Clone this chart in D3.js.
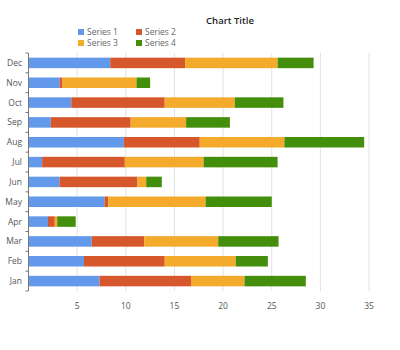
<!DOCTYPE html>
<html>
<head>
<meta charset="utf-8">
<script src="https://cdn.jsdelivr.net/npm/d3@7"></script>
<style>
  html, body { margin: 0; padding: 0; background: #fff; }
  svg { display: block; font-family: "Open Sans", "Noto Sans", sans-serif; }
</style>
</head>
<body>
<svg id="chart" width="400" height="350"></svg>
<script>
// Months, bottom to top in the stack order of the axis
const months = ["Jan", "Feb", "Mar", "Apr", "May", "Jun", "Jul", "Aug", "Sep", "Oct", "Nov", "Dec"];
const seriesNames = ["Series 1", "Series 2", "Series 3", "Series 4"];
const series1 = [7.3, 5.7, 6.5, 2.0, 7.8, 3.2, 1.4, 9.8, 2.3, 4.4, 3.2, 8.4];
const series2 = [9.4, 8.3, 5.4, 0.7, 0.4, 8.0, 8.5, 7.8, 8.2, 9.6, 0.3, 7.7];
const series3 = [5.5, 7.3, 7.6, 0.25, 10.0, 0.9, 8.1, 8.7, 5.7, 7.2, 7.6, 9.5];
const series4 = [6.3, 3.3, 6.2, 1.9, 6.8, 1.6, 7.6, 8.2, 4.5, 5.0, 1.4, 3.7];
const xTicks = [5, 10, 15, 20, 25, 30, 35];
const colors = ["#6399ea", "#d6572c", "#f4aa2b", "#438e0b"];

const rows = months.map((m, i) => ({
  month: m,
  "Series 1": series1[i],
  "Series 2": series2[i],
  "Series 3": series3[i],
  "Series 4": series4[i]
}));

const svg = d3.select("#chart");
const margin = { left: 28.5, right: 30, top: 53, bottom: 59 };
const W = 400, H = 350;

const x = d3.scaleLinear().domain([0, 36]).range([margin.left, margin.left + 36 * 9.73]);
const y = d3.scaleBand().domain(months.slice().reverse())
  .range([margin.top, H - margin.bottom]).paddingInner(0.47).paddingOuter(0.235);

// Vertical gridlines
svg.append("g").selectAll("line").data(xTicks).join("line")
  .attr("x1", d => x(d)).attr("x2", d => x(d))
  .attr("y1", margin.top).attr("y2", H - margin.bottom)
  .attr("stroke", "#e2e2e2").attr("stroke-width", 1);

// Stacked bars
const stack = d3.stack().keys(seriesNames)(rows);
svg.append("g").selectAll("g").data(stack).join("g")
  .attr("fill", (d, i) => colors[i])
  .selectAll("rect").data(d => d).join("rect")
  .attr("x", d => x(d[0]))
  .attr("width", d => x(d[1]) - x(d[0]))
  .attr("y", d => y(d.data.month))
  .attr("height", y.bandwidth());

// Category axis with short ticks at row boundaries
const axisG = svg.append("g");
axisG.append("line")
  .attr("x1", margin.left).attr("x2", margin.left)
  .attr("y1", margin.top).attr("y2", H - margin.bottom)
  .attr("stroke", "#777").attr("stroke-width", 1);
const step = (H - margin.bottom - margin.top) / months.length;
axisG.selectAll("line.tick").data(d3.range(months.length + 1)).join("line")
  .attr("class", "tick")
  .attr("x1", margin.left - 3).attr("x2", margin.left)
  .attr("y1", i => margin.top + i * step).attr("y2", i => margin.top + i * step)
  .attr("stroke", "#777").attr("stroke-width", 1);
axisG.selectAll("text").data(months).join("text")
  .attr("x", 22)
  .attr("y", d => y(d) + y.bandwidth() / 2)
  .attr("dy", "0.35em")
  .attr("text-anchor", "end")
  .attr("font-size", 8.5)
  .attr("fill", "#555")
  .text(d => d);

// Value axis labels
svg.append("g").selectAll("text").data(xTicks).join("text")
  .attr("x", d => x(d)).attr("y", 309)
  .attr("text-anchor", "middle")
  .attr("font-size", 8.5)
  .attr("fill", "#555")
  .text(d => d);

// Title
svg.append("text")
  .attr("x", 230).attr("y", 24)
  .attr("text-anchor", "middle")
  .attr("font-size", 9.5)
  .attr("font-weight", 600)
  .attr("fill", "#222")
  .text("Chart Title");

// Legend, two columns
const legend = svg.append("g").selectAll("g").data(seriesNames).join("g")
  .attr("transform", (d, i) => `translate(${78 + (i % 2) * 58},${29 + Math.floor(i / 2) * 11})`);
legend.append("rect").attr("width", 6).attr("height", 6).attr("fill", (d, i) => colors[i]);
legend.append("text").attr("x", 9).attr("y", 3).attr("dy", "0.35em")
  .attr("font-size", 8.5).attr("fill", "#666").text(d => d);
</script>
</body>
</html>
